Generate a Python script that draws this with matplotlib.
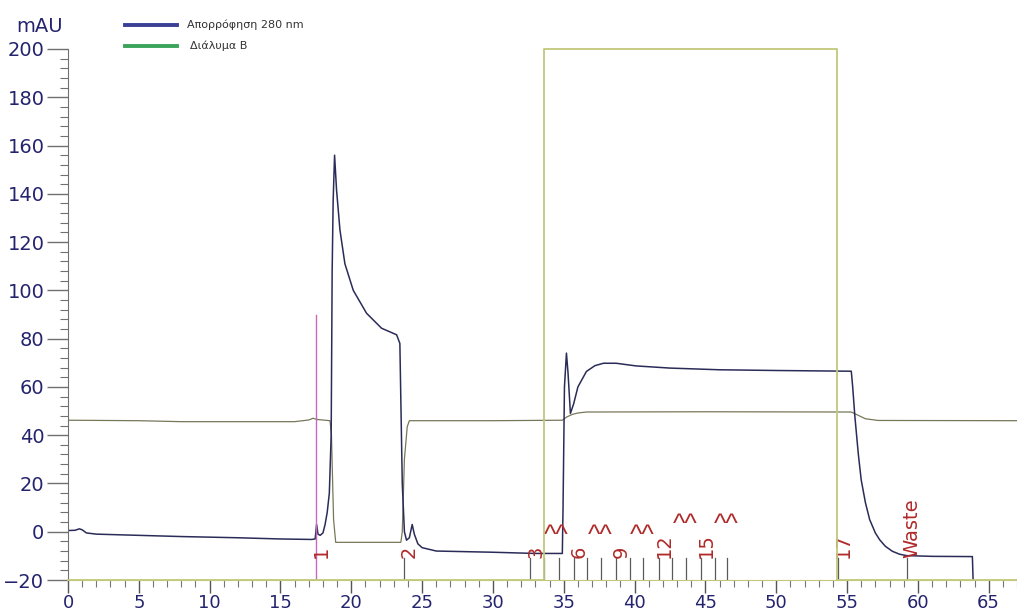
import matplotlib
matplotlib.use("Agg")
import matplotlib.pyplot as plt
from matplotlib.lines import Line2D
from matplotlib.ticker import MultipleLocator

# ---- data ----
# UV absorbance 280 nm (mAU)
a280_t = [0, 0.5, 0.8, 1.0, 1.3, 2, 5, 8, 12, 15, 17.2, 17.45, 17.55, 17.65, 17.8, 18.0, 18.15,
          18.3, 18.45, 18.58, 18.65, 18.72, 18.82, 18.96, 19.2, 19.55, 20.14, 21.08, 22.14,
          23.2, 23.43, 23.6, 23.75, 23.9, 24.1, 24.3, 24.45, 24.7, 25.0, 26, 30, 33, 34.9,
          34.95, 35.05, 35.19, 35.3, 35.47, 35.7, 36.0, 36.6, 37.2, 37.8, 38.7, 40.1, 42.5,
          46, 50, 55.3, 55.4, 55.55, 55.8, 56.0, 56.3, 56.6, 57.0, 57.3, 57.7, 58.2, 58.7,
          59.2, 61, 63.85, 63.9]
a280_v = [0.5, 0.6, 1.2, 0.8, -0.5, -1.0, -1.5, -2.0, -2.5, -3.0, -3.2, -3.0, 3.0, -1.0, -1.5,
          -0.5, 3.0, 8, 16, 40, 108, 137, 156, 141.6, 125, 111, 100, 90.5, 84.3,
          81.6, 78, 20, 0, -3.5, -2.5, 3.0, -1.0, -5.0, -6.6, -8.0, -8.5, -9.0, -9.0,
          10, 60, 74, 66, 49, 53, 60, 66.4, 68.8, 69.8, 69.8, 68.7, 67.8,
          67.1, 66.8, 66.5, 60, 48, 32, 21.5, 12, 5, -0.5, -3.3, -6.0, -8.1, -9.3,
          -9.9, -10.2, -10.3, -20]

# Conductivity-like trace (no legend entry)
cond_t = [0, 5, 8, 12, 16, 17.0, 17.3, 17.6, 18.5, 18.6, 18.75, 18.9, 23.5, 23.6, 23.75,
          23.95, 24.1, 30, 34.9, 35.2, 35.6, 36.0, 36.6, 45, 55.3, 55.8, 56.3, 57.2, 67]
cond_v = [46.2, 46.0, 45.6, 45.6, 45.6, 46.3, 47.0, 46.5, 46.0, 40, 5, -4.4, -4.4, 0, 30,
          43.5, 46.0, 46.0, 46.2, 47.5, 48.6, 49.2, 49.6, 49.7, 49.6, 48.2, 46.8, 46.1, 46.0]

# Solution B (%)
b_t = [0, 33.6, 33.6, 54.3, 54.3, 67]
b_v = [0, 0, 100, 100, 0, 0]

# fraction marks
frac_t = [23.71, 32.65, 33.6, 34.63, 35.69, 36.65, 37.6, 38.67, 39.66, 40.6, 41.7,
          42.67, 43.66, 44.7, 45.68, 46.5, 54.35, 59.2]
frac_labels = {17.48: "1", 23.71: "2", 32.65: "3", 35.69: "6", 38.67: "9", 41.7: "12",
               44.7: "15", 54.35: "17", 59.2: "Waste"}
caret_t = [34.5, 37.6, 40.55, 43.6, 46.5]
caret_v = [-1.6, -1.6, -1.6, 2.9, 2.9]
inject_t = 17.48

navy = "#24246e"
fig = plt.figure(figsize=(10.17, 6.14), dpi=100)
ax = fig.add_axes([68 / 1017, 34 / 614, 949 / 1017, 531 / 614])
ax.set_xlim(0, 67)
ax.set_ylim(-20, 200)

ax.plot(cond_t, cond_v, color="#77775a", lw=0.9)
ax.plot(a280_t, a280_v, color="#2a2c58", lw=1.1)
ax.plot([inject_t, inject_t], [-20, 90], color="#c868b8", lw=1.0)

for t in frac_t:
    ax.plot([t, t], [-20, -11], color="#5a5a5a", lw=0.9)
for t, lab in frac_labels.items():
    ax.text(t + 0.4, -10.8, lab, rotation=90, ha="center", va="bottom",
            color="#b02a2a", fontsize=14, family="DejaVu Sans")
for t, v in zip(caret_t, caret_v):
    ax.text(t, v, "^^", ha="center", va="center", color="#b02a2a",
            fontsize=19, family="Liberation Sans")

ax2 = ax.twinx()
ax2.set_ylim(0, 100)
ax2.plot(b_t, b_v, color="#c2c87a", lw=1.3, clip_on=False)
ax2.axis("off")

for s in ["top", "right"]:
    ax.spines[s].set_visible(False)
ax.spines["left"].set_color("#707070")
ax.spines["bottom"].set_color("#c2c87a")

ax.xaxis.set_major_locator(MultipleLocator(5))
ax.xaxis.set_minor_locator(MultipleLocator(1))
ax.yaxis.set_major_locator(MultipleLocator(20))
ax.yaxis.set_minor_locator(MultipleLocator(4))
ax.tick_params(axis="x", which="major", length=9, width=1, color="#555555",
               labelsize=13, labelcolor=navy, pad=1)
ax.tick_params(axis="x", which="minor", length=5, width=0.8, color="#777777")
ax.tick_params(axis="y", which="major", length=15, width=1, color="#707070",
               labelsize=14, labelcolor=navy, pad=2)
ax.tick_params(axis="y", which="minor", length=6, width=0.8, color="#707070")

fig.text(40 / 1017, 1 - 27 / 614, "mAU", ha="center", va="center", color=navy, fontsize=14)

# legend
fig.add_artist(Line2D([125 / 1017, 177 / 1017], [1 - 25 / 614, 1 - 25 / 614],
                      color="#3b3f96", lw=2.8))
fig.add_artist(Line2D([125 / 1017, 177 / 1017], [1 - 46 / 614, 1 - 46 / 614],
                      color="#3aa55a", lw=2.8))
fig.text(187 / 1017, 1 - 25 / 614, "Απορρόφηση 280 nm", ha="left", va="center",
         fontsize=8, color="#333333")
fig.text(190 / 1017, 1 - 46 / 614, "Διάλυμα Β", ha="left", va="center",
         fontsize=8, color="#333333")

fig.savefig("out.png", dpi=100)
